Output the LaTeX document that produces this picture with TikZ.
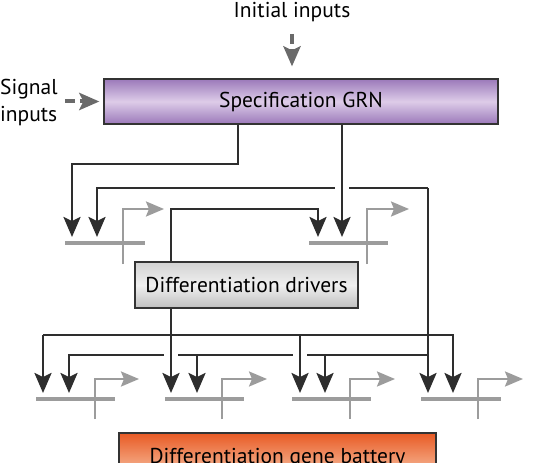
\documentclass[tikz,border=0pt]{standalone}
\usepackage{fontspec}
\setmainfont{PT Sans}
\usetikzlibrary{arrows.meta}
\definecolor{linkgray}{HTML}{2E2E2E}
\definecolor{genegray}{HTML}{9C9C9C}
\definecolor{siggray}{HTML}{6A6A6A}
\definecolor{specdark}{HTML}{9B79BA}
\definecolor{speclight}{HTML}{DDCCE8}
\definecolor{battop}{HTML}{E85A24}
\definecolor{batlow}{HTML}{FAD0B4}

\begin{document}
\begin{tikzpicture}[x=1pt,y=-1pt,font=\fontsize{21.5}{27}\selectfont]
	\tikzstyle{box}=[draw=black!80,line width=1.2pt,inner sep=0pt,rectangle];
	\tikzstyle{link}=[draw=linkgray,line width=2.6pt,-{Stealth[length=20pt,width=17pt,inset=4pt]}];
	\tikzstyle{gap}=[draw=white,line width=14pt];
	\tikzstyle{sig}=[draw=siggray,line width=4pt,dash pattern=on 10pt off 5pt,-{Stealth[length=20pt,width=17pt,inset=4pt]}];
	\tikzstyle{genebar}=[draw=genegray,line width=4.5pt];
	\tikzstyle{promo}=[draw=genegray,line width=2.5pt,-{Stealth[length=18pt,width=15pt,inset=3pt]}];
	\useasboundingbox (0,0) rectangle (534,462);
	%% boxes
	\node[box,minimum width=394pt,minimum height=45pt,top color=specdark,bottom color=specdark,middle color=speclight]
		(spec) at (301,101.5) {Specification GRN};
	\node[box,minimum width=223pt,minimum height=46pt,top color=gray!35,bottom color=gray!50,middle color=gray!12]
		(drv) at (246.5,285) {Differentiation drivers};
	\node[box,minimum width=317pt,minimum height=50pt,top color=battop,bottom color=batlow]
		(bat) at (277.5,458) {Differentiation gene battery};
	%% inputs
	\node[inner sep=0pt] (init) at (292,12) {Initial inputs};
	\node[inner sep=0pt,anchor=west,align=left] (sig) at (0,102) {Signal\\inputs};
	\draw[sig] (init.south) ++(0,12) -- ([yshift=12pt]spec.north -| init);
	\draw[sig] (sig.east |- spec) ++(7,0) -- ([xshift=-4pt]spec.west);
	%% targets
	\coordinate (a1) at (72,237);
	\coordinate (a2) at (97,237);
	\coordinate (b1) at (318,237);
	\coordinate (b2) at (342,237);
	\coordinate (d1a) at (43,393);
	\coordinate (d1b) at (69,393);
	\coordinate (d2a) at (171,393);
	\coordinate (d2b) at (197,393);
	\coordinate (d3a) at (300,393);
	\coordinate (d3b) at (325,393);
	\coordinate (d4a) at (428,393);
	\coordinate (d4b) at (453,393);
	%% genes
	\draw[genebar] (65,243) -- (145,243);
	\draw[promo] (123,264) -- (123,209) -- (164,209);
	\draw[genebar] (309,243) -- (388,243);
	\draw[promo] (367,264) -- (367,209) -- (409,209);
	\draw[genebar] (36,399) -- (115,399);
	\draw[promo] (95,419) -- (95,379) -- (139,379);
	\draw[genebar] (165,399) -- (244,399);
	\draw[promo] (222,419) -- (222,379) -- (267,379);
	\draw[genebar] (292,399) -- (371,399);
	\draw[promo] (350,419) -- (350,379) -- (395,379);
	\draw[genebar] (421,399) -- (501,399);
	\draw[promo] (478,419) -- (478,379) -- (523,379);
	%% feedback wiring
	\draw[link] (d4a |- 0,188) -| (a2);
	\draw[link] (d4a |- 0,188) -- (d4a);
	\draw[link] (d4a |- 0,355) -| (d1b);
	\draw[link] (d2b |- 0,355) -- (d2b);
	\draw[link] (d3b |- 0,355) -- (d3b);
	%% driver wiring
	\draw[link] (d1a |- 0,335) -| (d4b);
	\draw[link] (d1a |- 0,335) -- (d1a);
	\draw[gap] (300,352) -- (300,358);
	\draw[link] (d3a |- 0,335) -- (d3a);
	\draw[gap] (171,352) -- (171,358);
	\draw[link] (drv.south -| d2a) -- (d2a);
	\draw[link] (drv.north -| d2a) -- (171,209) -| (b1);
	%% specification wiring
	\draw[link] (spec.south -| 238,0) -- (238,164) -| (a1);
	\draw[gap] (342,185) -- (342,191);
	\draw[link] (spec.south -| b2) -- (b2);
\end{tikzpicture}
\end{document}
